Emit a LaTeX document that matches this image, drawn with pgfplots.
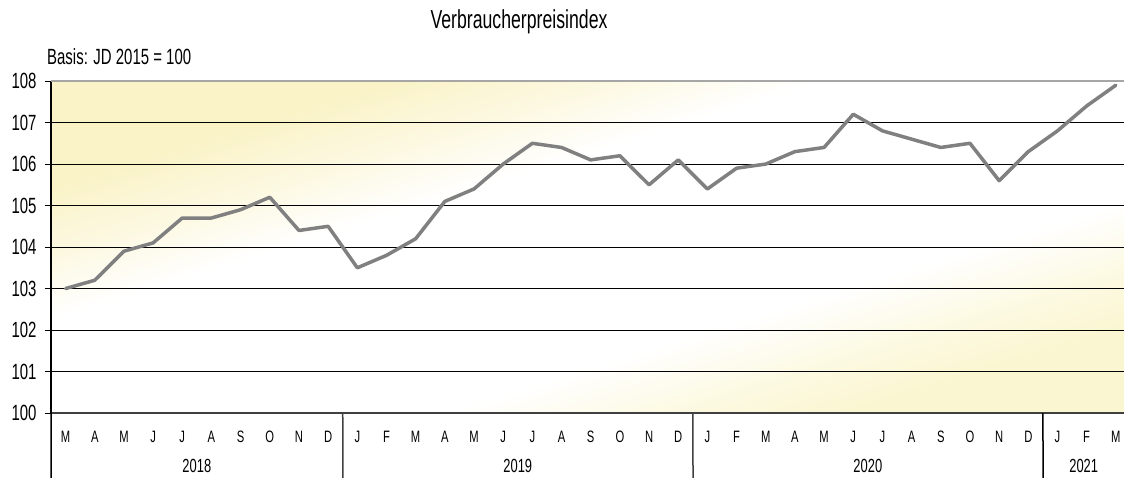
\documentclass[border=0pt]{standalone}
\usepackage{fontspec}
\setmainfont{Liberation Sans}[FakeStretch=0.68]
\usepackage{pgfplots}
\pgfplotsset{compat=1.18}
\definecolor{yel}{RGB}{250,243,200}
\definecolor{yelb}{RGB}{251,246,210}
\definecolor{linegray}{RGB}{128,128,128}
\definecolor{topgray}{RGB}{166,166,166}
\definecolor{axgray}{RGB}{64,64,64}
\pgfdeclarehorizontalshading{bgshade}{100bp}{color(0bp)=(yel); color(26bp)=(yel); color(33bp)=(yel!55!white); color(40bp)=(white); color(63bp)=(white); color(70bp)=(yelb!60!white); color(76bp)=(yelb); color(100bp)=(yelb)}
\pgfplotstableread{
x y
0 103.0
1 103.2
2 103.9
3 104.1
4 104.7
5 104.7
6 104.9
7 105.2
8 104.4
9 104.5
10 103.5
11 103.8
12 104.2
13 105.1
14 105.4
15 106.0
16 106.5
17 106.4
18 106.1
19 106.2
20 105.5
21 106.1
22 105.4
23 105.9
24 106.0
25 106.3
26 106.4
27 107.2
28 106.8
29 106.6
30 106.4
31 106.5
32 105.6
33 106.3
34 106.8
35 107.4
36 107.9
}\vpi
\begin{document}
\begin{tikzpicture}[x=1pt,y=1pt]
\useasboundingbox (0,0) rectangle (1124,477);
\begin{scope}[transform canvas={shift={(51pt,64pt)}, xscale=107.3, yscale=33.2}]
\shade[shading=bgshade, shading angle=-45] (0,0) rectangle (10,10);
\end{scope}
\node[font=\fontsize{26}{28}\selectfont, inner sep=0] at (519,455) {Verbraucherpreisindex};
\node[font=\fontsize{22}{24}\selectfont, anchor=west, inner sep=0] at (47,420) {Basis: JD 2015 = 100};
\begin{axis}[
  at={(51pt,64pt)}, anchor=south west,
  scale only axis, width=1073pt, height=332pt,
  xmin=-0.5, xmax=36.28, ymin=100, ymax=108,
  clip=false,
  axis x line*=bottom, axis y line*=left,
  x axis line style={axgray, line width=2pt},
  y axis line style={black, line width=1.5pt},
  /pgf/number format/assume math mode=true,
  ytick={100,101,...,108},
  ymajorgrids, grid style={black, line width=0.9pt},
  ytick style={black, line width=1pt},
  ytick align=outside, major tick length=6pt,
  yticklabel style={font=\fontsize{22}{24}\selectfont, xshift=-5pt},
  xtick={0,...,36},
  xtick style={draw=none},
  xticklabels={M,A,M,J,J,A,S,O,N,D,J,F,M,A,M,J,J,A,S,O,N,D,J,F,M,A,M,J,J,A,S,O,N,D,J,F,M},
  xticklabel style={font=\fontsize{16.5}{18}\selectfont, anchor=center, yshift=-24pt},
]
\addplot[linegray, line width=3.5pt, line join=round, line cap=round] table[x=x,y=y] {\vpi};
\draw[topgray, line width=2.5pt] (rel axis cs:0,1) -- (rel axis cs:1,1);
\draw[black, line width=1.5pt] (axis cs:-0.5,100) -- ++(0,-70pt);
\draw[axgray, line width=1.5pt] (axis cs:9.5,100) -- ++(0,-70pt);
\draw[axgray, line width=1.5pt] (axis cs:21.5,100) -- ++(0,-70pt);
\draw[black, line width=1.5pt] (axis cs:33.5,100) -- ++(0,-70pt);
\node[font=\fontsize{19}{20}\selectfont] at ([yshift=-53pt]axis cs:4.5,100) {2018};
\node[font=\fontsize{19}{20}\selectfont] at ([yshift=-53pt]axis cs:15.5,100) {2019};
\node[font=\fontsize{19}{20}\selectfont] at ([yshift=-53pt]axis cs:27.5,100) {2020};
\node[font=\fontsize{19}{20}\selectfont] at ([yshift=-53pt]axis cs:34.9,100) {2021};
\end{axis}
\end{tikzpicture}
\end{document}
